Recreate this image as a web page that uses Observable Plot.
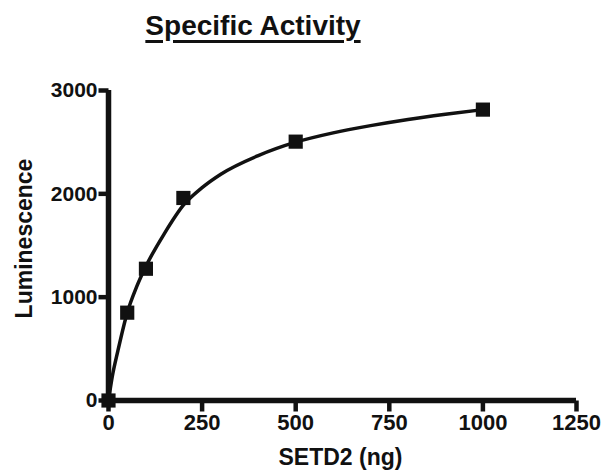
<!DOCTYPE html>
<html>
<head>
<meta charset="utf-8">
<script src="https://cdn.jsdelivr.net/npm/d3@7"></script>
<script src="https://cdn.jsdelivr.net/npm/@observablehq/plot@0.6"></script>
<style>
  html, body { margin: 0; padding: 0; background: #fff; }
  #title { position: relative; height: 60px; width: 603px; }
  #title span {
    position: absolute; left: 0; width: 506px; top: 12px; text-align: center;
    font: bold 28px "Liberation Sans", Arial, sans-serif; line-height: 28px; color: #111;
    text-decoration: underline; text-decoration-thickness: 3px; text-underline-offset: 5px;
  }
  svg { display: block; }
</style>
</head>
<body>
<div id="title"><span>Specific Activity</span></div>
<div id="chart"></div>
<script>
// Measured points
const setd2 = [0, 50, 100, 200, 500, 1000];
const luminescence = [0, 850, 1275, 1960, 2505, 2815];
// Fitted curve
const curveX = [0, 10, 25, 50, 75, 100, 150, 200, 250, 300, 400, 500, 600, 700, 800, 900, 1000];
const curveY = [0, 230, 480, 850, 1100, 1300, 1620, 1890, 2060, 2190, 2370, 2500, 2590, 2660, 2720, 2770, 2815];
const xTicks = [0, 250, 500, 750, 1000, 1250];
const yTicks = [0, 1000, 2000, 3000];
const xLabel = "SETD2 (ng)";
const yLabel = "Luminescence";

const points = setd2.map((x, i) => ({x, y: luminescence[i]}));
const curve = curveX.map((x, i) => ({x, y: curveY[i]}));
const stick = {draw(context, l) { context.moveTo(0, 0); context.lineTo(0, -l); }};

const chart = Plot.plot({
  width: 603,
  height: 415,
  marginLeft: 108,
  marginRight: 27,
  marginTop: 30,
  marginBottom: 75,
  style: {fontFamily: "'Liberation Sans', Arial, sans-serif", fontWeight: "bold", fontSize: "21px", color: "#111", background: "#fff"},
  x: {domain: [0, 1250], label: null, axis: null},
  y: {domain: [0, 3000], label: null, axis: null},
  marks: [
    Plot.axisX({ticks: xTicks, tickFormat: "d", tickSize: 0, tickPadding: 14, fontSize: 22, label: null}),
    Plot.axisY({ticks: yTicks, tickFormat: "d", tickSize: 0, tickPadding: 11, fontSize: 21, label: null}),
    Plot.vector(xTicks, {x: d => d, y: 0, length: 11, rotate: 180, anchor: "start", shape: stick, stroke: "#111", strokeWidth: 4.5, strokeLinecap: "butt"}),
    Plot.vector(yTicks, {x: 0, y: d => d, length: 10, rotate: 270, anchor: "start", shape: stick, stroke: "#111", strokeWidth: 4.5, strokeLinecap: "butt"}),
    Plot.ruleY([0], {stroke: "#111", strokeWidth: 5.5}),
    Plot.ruleX([0], {y1: 0, y2: 3000, stroke: "#111", strokeWidth: 5.5}),
    Plot.line(curve, {x: "x", y: "y", curve: "monotone-x", stroke: "#111", strokeWidth: 3.5}),
    Plot.dot(points, {x: "x", y: "y", symbol: "square", r: 8, fill: "#111", stroke: "none"}),
    Plot.text([xLabel], {frameAnchor: "bottom", lineAnchor: "middle", dy: 57, dx: -2, fontSize: 23, fill: "#111"}),
    Plot.text([yLabel], {frameAnchor: "left", rotate: -90, textAnchor: "middle", lineAnchor: "middle", dx: -84, dy: -7, fontSize: 23, fill: "#111"})
  ]
});
document.getElementById("chart").appendChild(chart);
</script>
</body>
</html>
